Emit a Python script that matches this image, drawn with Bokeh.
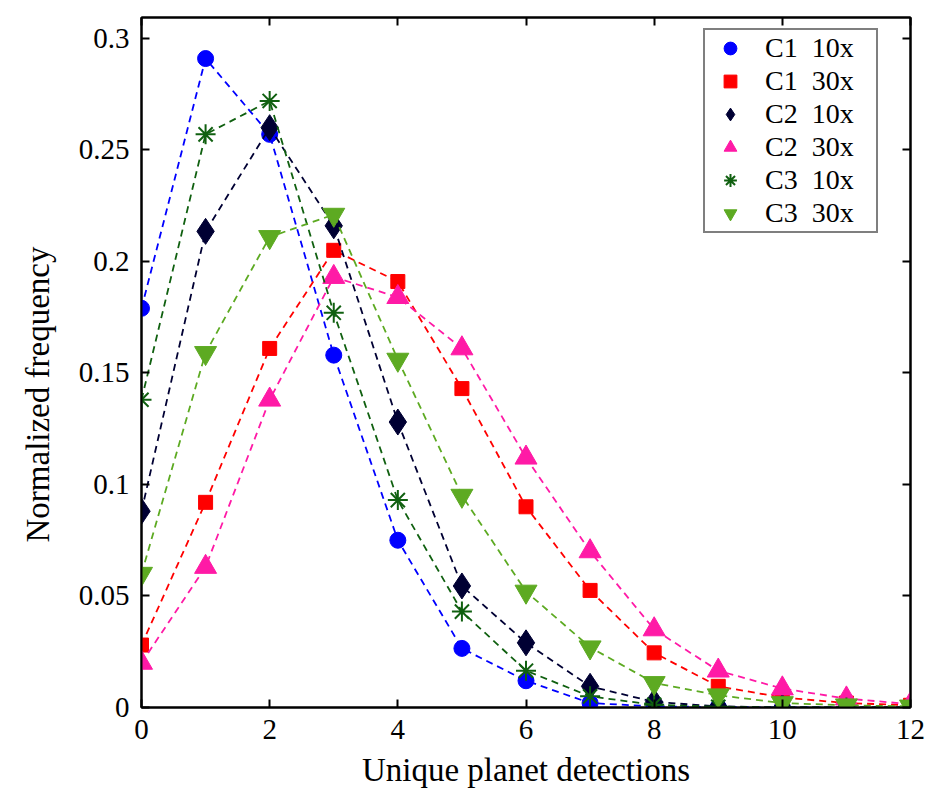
from bokeh.plotting import figure
from bokeh.models import (LinearAxis, FixedTicker, CustomJSTickFormatter, Range1d,
                          Legend, LegendItem, Title)
from bokeh.embed import file_html
from bokeh.resources import INLINE

# ---- data ----
detections = [0, 1, 2, 3, 4, 5, 6, 7, 8, 9, 10, 11, 12]
c1_10x = [0.179, 0.291, 0.257, 0.158, 0.075, 0.0265, 0.012, 0.002, 0.0005, 0.0002, 0.0, 0.0, 0.0]
c1_30x = [0.028, 0.092, 0.161, 0.205, 0.191, 0.143, 0.090, 0.0525, 0.0245, 0.0095, 0.0045, 0.002, 0.001]
c2_10x = [0.088, 0.2135, 0.260, 0.216, 0.128, 0.0545, 0.029, 0.0095, 0.0025, 0.0005, 0.0001, 0.0, 0.0]
c2_30x = [0.020, 0.063, 0.138, 0.193, 0.184, 0.161, 0.112, 0.070, 0.035, 0.0165, 0.0085, 0.004, 0.0015]
c3_10x = [0.138, 0.257, 0.272, 0.177, 0.093, 0.043, 0.0165, 0.005, 0.0012, 0.0003, 0.0, 0.0, 0.0]
c3_30x = [0.060, 0.159, 0.211, 0.221, 0.156, 0.095, 0.052, 0.027, 0.011, 0.0055, 0.002, 0.001, 0.0005]
labels = ["C1  10x", "C1  30x", "C2  10x", "C2  30x", "C3  10x", "C3  30x"]
x_ticks = [0, 2, 4, 6, 8, 10, 12]
y_ticks = [0, 0.05, 0.1, 0.15, 0.2, 0.25, 0.3]
x_title = "Unique planet detections"
y_title = "Normalized frequency"

series = [c1_10x, c1_30x, c2_10x, c2_30x, c3_10x, c3_30x]
colors = ["#0000FF", "#FF0000", "#000033", "#FF1AA6", "#106010", "#5DAA22"]
markers = ["circle", "square", "diamond", "triangle", "asterisk", "inverted_triangle"]
sizes = [16, 14, 26, 22, 20, 22]

FONT = "Liberation Serif"

p = figure(width=927, height=794, output_backend="svg", toolbar_location=None,
           x_range=Range1d(0, 12), y_range=Range1d(0, 0.3094),
           min_border_left=141, min_border_right=17, min_border_top=17, min_border_bottom=87)
p.background_fill_color = "white"
p.border_fill_color = "white"
p.outline_line_color = "black"
p.outline_line_width = 2
p.grid.visible = False

fmt = CustomJSTickFormatter(code="return String(Number(tick.toFixed(2)));")

p.xaxis.ticker = FixedTicker(ticks=x_ticks)
p.yaxis.ticker = FixedTicker(ticks=y_ticks)
p.yaxis.formatter = fmt
for ax in (p.xaxis[0], p.yaxis[0]):
    ax.major_tick_in = 8
    ax.major_tick_out = 0
    ax.minor_tick_in = 0
    ax.minor_tick_out = 0
    ax.axis_line_width = 2
    ax.major_tick_line_width = 2
    ax.axis_line_color = "black"
    ax.major_label_text_font = FONT
    ax.major_label_text_font_size = "29px"
    ax.major_label_text_color = "black"
    ax.axis_label_text_font = FONT
    ax.axis_label_text_font_size = "33px"
    ax.axis_label_text_font_style = "normal"
    ax.axis_label_text_color = "black"
p.xaxis.axis_label = x_title
p.xaxis.major_label_standoff = 12
p.xaxis.axis_label_standoff = 10
p.yaxis.major_label_standoff = 12

# y-axis title as a left-side title so it can sit a little lower, as in the reference
ytitle = Title(text=y_title, align="left", offset=165, vertical_align="top",
               text_font=FONT, text_font_size="33px", text_font_style="normal",
               text_color="black", standoff=36)
p.add_layout(ytitle, "left")

# mirrored ticks on top and right (no labels)
for loc, tk in (("right", y_ticks), ("above", x_ticks)):
    ax = LinearAxis(ticker=FixedTicker(ticks=tk))
    ax.major_label_text_color = None
    ax.major_label_standoff = 0
    ax.major_tick_in = 8
    ax.major_tick_out = 0
    ax.minor_tick_in = 0
    ax.minor_tick_out = 0
    ax.major_tick_line_width = 2
    ax.axis_line_width = 2
    p.add_layout(ax, loc)

items = []
for vals, col, mk, sz, lab in zip(series, colors, markers, sizes, labels):
    p.line(detections, vals, line_color=col, line_width=1.8, line_dash="7 5")
    if mk == "asterisk":
        r = p.scatter(detections, vals, marker=mk, size=sz, line_color=col, line_width=2)
    else:
        r = p.scatter(detections, vals, marker=mk, size=sz, fill_color=col, line_color=col)
    items.append(LegendItem(label=lab, renderers=[r]))

legend = Legend(items=items, location=(562, 474))
legend.label_text_font = FONT
legend.label_text_font_size = "28px"
legend.label_text_color = "black"
legend.border_line_color = "black"
legend.border_line_width = 2
legend.background_fill_color = "white"
legend.background_fill_alpha = 1
legend.glyph_height = 32
legend.glyph_width = 46
legend.label_height = 32
legend.label_width = 109
legend.spacing = 1
legend.padding = 2
legend.label_standoff = 12
legend.margin = 0
p.add_layout(legend, "center")

open("out.html", "w").write(file_html(p, INLINE))
